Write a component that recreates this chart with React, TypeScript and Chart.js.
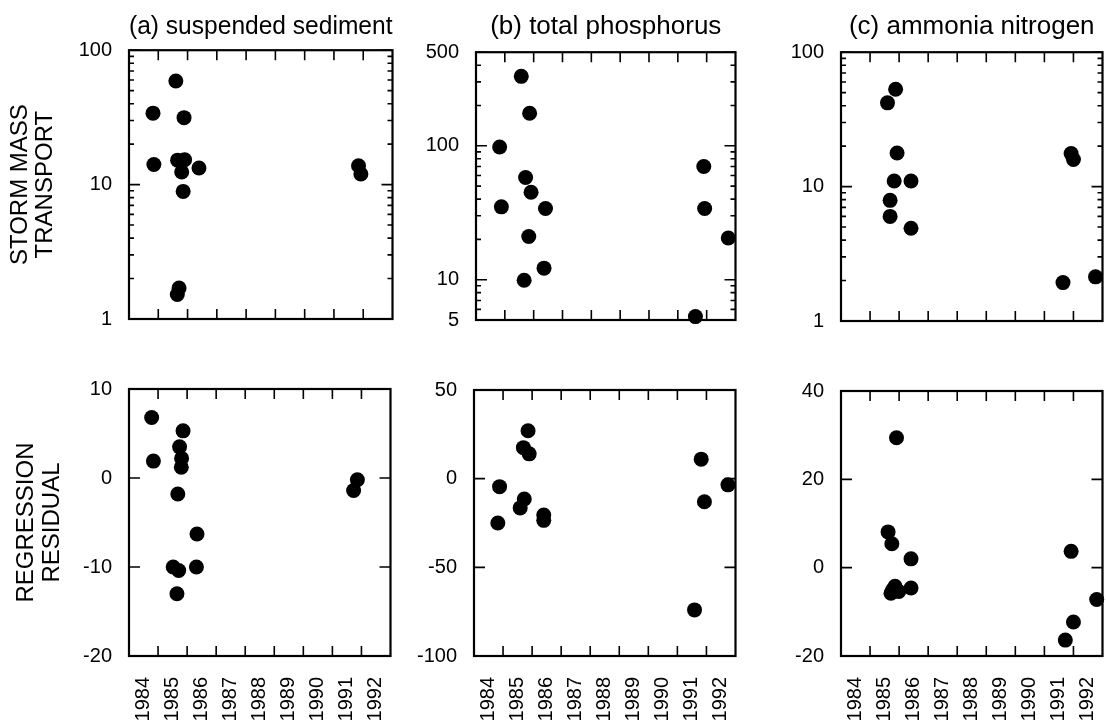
import React, { useEffect, useRef } from "react";
import { Chart, registerables } from "chart.js";

Chart.register(...registerables);
Chart.defaults.font.family = "'Liberation Sans', Arial, Helvetica, sans-serif";
Chart.defaults.color = "#000";

// ---------- axis tick values ----------
const LABEL_YEARS = [1984, 1985, 1986, 1987, 1988, 1989, 1990, 1991, 1992];
const TICK_YEARS = [1985, 1986, 1987, 1988, 1989, 1990, 1991, 1992];

const LOG_1_100_LABELS = [1, 10, 100];
const LOG_1_100_MINOR = [2, 3, 4, 5, 6, 7, 8, 9, 20, 30, 40, 50, 60, 70, 80, 90];
const LOG_5_500_LABELS = [5, 10, 100, 500];
const LOG_5_500_MINOR = [6, 7, 8, 9, 20, 30, 40, 50, 60, 70, 80, 90, 200, 300, 400];
const SED_RESID_LABELS = [-20, -10, 0, 10];
const TP_RESID_LABELS = [-100, -50, 0, 50];
const NH_RESID_LABELS = [-20, 0, 20, 40];

// ---------- (a) suspended sediment ----------
const SED_MASS_YEAR = [1984.82, 1984.85, 1985.6, 1985.88, 1985.66, 1985.9, 1985.8, 1985.85, 1986.39, 1985.71, 1985.65, 1991.84, 1991.92];
const SED_MASS = [34, 14.1, 59, 31.5, 15.2, 15.3, 12.4, 8.9, 13.3, 1.7, 1.52, 13.8, 12.0];
const SED_RESID_YEAR = [1984.78, 1984.84, 1985.86, 1985.74, 1985.81, 1985.8, 1985.68, 1986.34, 1985.52, 1985.71, 1986.32, 1985.65, 1991.86, 1991.73];
const SED_RESID = [6.8, 1.9, 5.3, 3.5, 2.2, 1.2, -1.8, -6.3, -10.0, -10.4, -10.0, -13.0, -0.2, -1.4];

// ---------- (b) total phosphorus ----------
const TP_MASS_YEAR = [1984.82, 1984.88, 1985.57, 1985.86, 1985.72, 1985.91, 1986.41, 1985.83, 1986.36, 1985.67, 1991.9, 1991.93, 1992.75, 1991.61];
const TP_MASS = [98, 35, 330, 175, 58, 45, 34, 21, 12.2, 9.9, 70, 34, 20.5, 5.3];
const TP_RESID_YEAR = [1984.88, 1984.82, 1985.86, 1985.7, 1985.9, 1985.73, 1985.59, 1986.4, 1986.4, 1991.82, 1991.93, 1992.74, 1991.59];
const TP_RESID = [-4.5, -25, 27, 17.5, 14, -11.5, -16.5, -20.5, -23.5, 11, -13, -3.5, -74];

// ---------- (c) ammonia nitrogen ----------
const NH_MASS_YEAR = [1985.6, 1985.88, 1985.93, 1985.83, 1986.41, 1985.69, 1985.69, 1986.41, 1991.92, 1992.0, 1991.64, 1992.76];
const NH_MASS = [42, 53, 17.8, 11, 11, 7.9, 6.0, 4.9, 17.6, 15.9, 1.93, 2.13];
const NH_RESID_YEAR = [1985.91, 1985.62, 1985.75, 1986.41, 1986.41, 1985.72, 1985.86, 1985.99, 1985.78, 1991.92, 1992.0, 1991.72, 1992.8];
const NH_RESID = [29.4, 8.1, 5.4, 2.0, -4.6, -5.8, -4.2, -5.4, -5.0, 3.7, -12.3, -16.4, -7.2];

type Panel = {
  key: string;
  left: number; top: number; w: number; h: number;
  yWidth: number; xHeight: number; padTop: number; padBottom: number;
  title?: string; titlePadBottom?: number;
  yTitle?: string[]; yTitlePad?: number; yTitleLH?: number;
  yType: "logarithmic" | "linear"; yMin: number; yMax: number;
  yLabels: number[]; yMinor: number[];
  showX: boolean;
  xs: number[]; ys: number[];
};

const PANELS: Panel[] = [
  { key: "a1", left: 0, top: 0, w: 400, h: 333, yWidth: 129, xHeight: 0, padTop: 0, padBottom: 14,
    title: "(a) suspended sediment", titlePadBottom: 8,
    yTitle: ["STORM MASS", "TRANSPORT"], yTitlePad: 7.5, yTitleLH: 25,
    yType: "logarithmic", yMin: 1, yMax: 100, yLabels: LOG_1_100_LABELS, yMinor: LOG_1_100_MINOR,
    showX: false, xs: SED_MASS_YEAR, ys: SED_MASS },
  { key: "b1", left: 406, top: 0, w: 337, h: 334, yWidth: 70, xHeight: 0, padTop: 0, padBottom: 14,
    title: "(b) total phosphorus", titlePadBottom: 10,
    yType: "logarithmic", yMin: 5, yMax: 500, yLabels: LOG_5_500_LABELS, yMinor: LOG_5_500_MINOR,
    showX: false, xs: TP_MASS_YEAR, ys: TP_MASS },
  { key: "c1", left: 771, top: 0, w: 339, h: 335, yWidth: 70, xHeight: 0, padTop: 0, padBottom: 14,
    title: "(c) ammonia nitrogen", titlePadBottom: 10,
    yType: "logarithmic", yMin: 1, yMax: 100, yLabels: LOG_1_100_LABELS, yMinor: LOG_1_100_MINOR,
    showX: false, xs: NH_MASS_YEAR, ys: NH_MASS },
  { key: "a2", left: 0, top: 369, w: 398, h: 372, yWidth: 129, xHeight: 85, padTop: 20, padBottom: 0,
    yTitle: ["REGRESSION", "RESIDUAL"], yTitlePad: 13, yTitleLH: 26,
    yType: "linear", yMin: -20, yMax: 10, yLabels: SED_RESID_LABELS, yMinor: [],
    showX: true, xs: SED_RESID_YEAR, ys: SED_RESID },
  { key: "b2", left: 404, top: 370, w: 339, h: 371, yWidth: 70, xHeight: 85, padTop: 20, padBottom: 0,
    yType: "linear", yMin: -100, yMax: 50, yLabels: TP_RESID_LABELS, yMinor: [],
    showX: true, xs: TP_RESID_YEAR, ys: TP_RESID },
  { key: "c2", left: 771, top: 371, w: 339, h: 370, yWidth: 70, xHeight: 85, padTop: 20, padBottom: 0,
    yType: "linear", yMin: -20, yMax: 40, yLabels: NH_RESID_LABELS, yMinor: [],
    showX: true, xs: NH_RESID_YEAR, ys: NH_RESID },
];

function makeFramePlugin(p: Panel) {
  return {
    id: "frameTicks",
    beforeDatasetsDraw(chart: any) {
      const { ctx, chartArea } = chart;
      const { left, right, top, bottom } = chartArea;
      const xs = chart.scales.x;
      const ys = chart.scales.y;
      ctx.save();
      ctx.strokeStyle = "#000";
      ctx.lineWidth = 1.6;
      ctx.beginPath();
      for (const v of TICK_YEARS) {
        const px = xs.getPixelForValue(v);
        ctx.moveTo(px, top); ctx.lineTo(px, top + 10);
        ctx.moveTo(px, bottom); ctx.lineTo(px, bottom - 10);
      }
      for (const v of p.yLabels) {
        const py = ys.getPixelForValue(v);
        ctx.moveTo(left, py); ctx.lineTo(left + 11, py);
        ctx.moveTo(right, py); ctx.lineTo(right - 11, py);
      }
      for (const v of p.yMinor) {
        const py = ys.getPixelForValue(v);
        ctx.moveTo(left, py); ctx.lineTo(left + 5, py);
        ctx.moveTo(right, py); ctx.lineTo(right - 5, py);
      }
      ctx.stroke();
      ctx.lineWidth = 2.2;
      ctx.strokeRect(left, top, right - left, bottom - top);
      ctx.restore();
    },
  };
}

function PanelChart({ p }: { p: Panel }) {
  const ref = useRef<HTMLCanvasElement>(null);
  useEffect(() => {
    const chart = new Chart(ref.current as HTMLCanvasElement, {
      type: "scatter",
      data: {
        datasets: [
          {
            data: p.xs.map((x, i) => ({ x, y: p.ys[i] })),
            backgroundColor: "#000",
            borderColor: "#000",
            borderWidth: 0,
            pointRadius: 7.5,
            clip: false as any,
          },
        ],
      },
      options: {
        animation: false,
        responsive: false,
        devicePixelRatio: 1,
        events: [],
        layout: { padding: { left: 0, top: p.padTop, right: 3, bottom: p.padBottom } },
        plugins: {
          legend: { display: false },
          tooltip: { enabled: false },
          title: p.title
            ? { display: true, text: p.title, fullSize: false, color: "#000",
                font: { size: 26, weight: "normal" as any, lineHeight: 1.2 },
                padding: { top: 11, bottom: p.titlePadBottom ?? 8 } }
            : { display: false },
        },
        scales: {
          x: {
            type: "linear", min: 1984, max: 1993, bounds: "data",
            grid: { display: false, drawTicks: false },
            border: { display: false },
            afterBuildTicks: (s: any) => { s.ticks = LABEL_YEARS.map((y) => ({ value: y + 0.5 })); },
            ticks: {
              display: p.showX, minRotation: 90, maxRotation: 90, autoSkip: false,
              padding: 21, font: { size: 20 }, color: "#000",
              callback: (v: any) => String(Math.floor(Number(v))),
            },
            afterFit: (s: any) => { s.height = p.xHeight; s.paddingLeft = 0; s.paddingRight = 0; },
          },
          y: {
            type: p.yType, min: p.yMin, max: p.yMax, bounds: "data",
            grid: { display: false, drawTicks: false },
            border: { display: false },
            afterBuildTicks: (s: any) => { s.ticks = p.yLabels.map((v) => ({ value: v })); },
            ticks: {
              padding: 17, font: { size: 20 }, color: "#000", autoSkip: false,
              callback: (v: any) => String(v),
            },
            title: p.yTitle
              ? { display: true, text: p.yTitle, color: "#000",
                  font: { size: 24, lineHeight: (p.yTitleLH ?? 25) / 24 },
                  padding: { top: p.yTitlePad ?? 8, bottom: 0 } }
              : { display: false },
            afterFit: (s: any) => { s.width = p.yWidth; s.paddingTop = 0; s.paddingBottom = 0; },
          } as any,
        },
      } as any,
      plugins: [makeFramePlugin(p)],
    });
    return () => chart.destroy();
  }, []);
  return (
    <canvas
      ref={ref}
      width={p.w}
      height={p.h}
      style={{ position: "absolute", left: p.left, top: p.top, width: p.w, height: p.h }}
    />
  );
}

export default function App() {
  return (
    <div
      style={{
        position: "absolute", left: 0, top: 0, width: 1106, height: 721,
        overflow: "hidden", background: "#fff",
      }}
    >
      {PANELS.map((p) => (
        <PanelChart key={p.key} p={p} />
      ))}
    </div>
  );
}
